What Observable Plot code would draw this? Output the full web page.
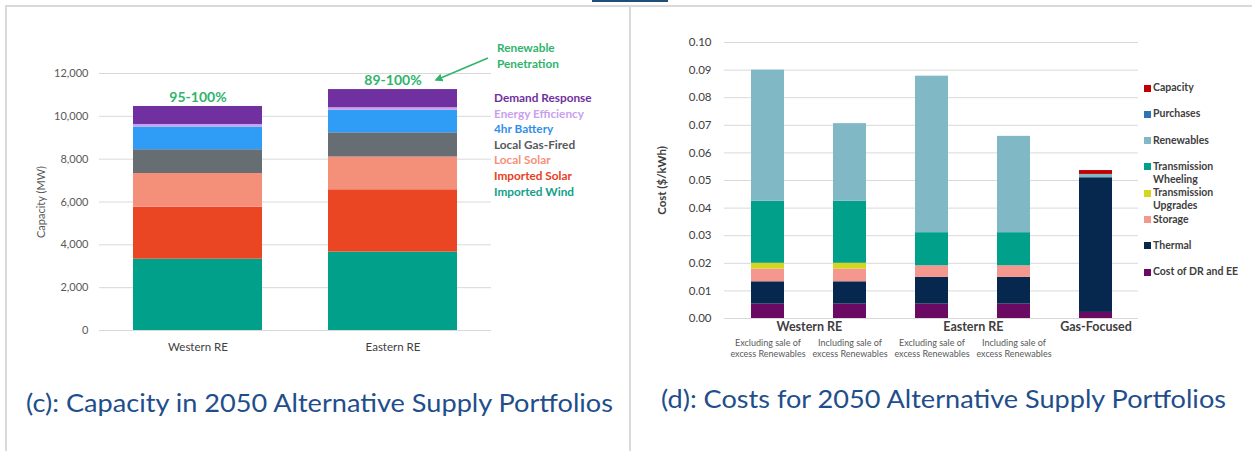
<!DOCTYPE html>
<html><head><meta charset="utf-8">
<script src="https://cdn.jsdelivr.net/npm/d3@7"></script>
<script src="https://cdn.jsdelivr.net/npm/@observablehq/plot@0.6"></script>
<style>
html,body{margin:0;padding:0;background:#fff;}
#root{position:relative;width:1252px;height:451px;overflow:hidden;font-family:Lato,"Open Sans",sans-serif;}
.caption{position:absolute;white-space:nowrap;color:#1f4e8c;font-size:25px;transform-origin:0 50%;line-height:1;}
.leg{position:absolute;white-space:nowrap;font-weight:700;line-height:1;}
</style></head><body><div id="root"></div>
<script>
// ---------- Panel (c): capacity ----------
const capPortfolios = ["Western RE", "Eastern RE"];
const capSources = ["Imported Wind", "Imported Solar", "Local Solar", "Local Gas-Fired", "4hr Battery", "Energy Efficiency", "Demand Response"];
const capColors = ["#00a08a", "#eb4624", "#f4907a", "#666d73", "#2f9cf5", "#c9a0f0", "#7030a0"];
const capLegendText = ["#12a08a", "#e8401c", "#f4907a", "#55595d", "#2f90ea", "#c9a0f0", "#7030a0"];
const capWestern = [3330, 2430, 1570, 1110, 1060, 120, 840];
const capEastern = [3660, 2910, 1530, 1130, 1050, 120, 850];
const capPenetration = ["95-100%", "89-100%"];
const capTicks = [0, 2000, 4000, 6000, 8000, 10000, 12000];

// ---------- Panel (d): costs ----------
const costBars = ["W-excl", "W-incl", "E-excl", "E-incl", "Gas"];
const costSubLabels = ["Excluding sale of\nexcess Renewables", "Including sale of\nexcess Renewables", "Excluding sale of\nexcess Renewables", "Including sale of\nexcess Renewables", ""];
const costGroups = ["Western RE", "Eastern RE", "Gas-Focused"];
const costGroupBars = [["W-excl", "W-incl"], ["E-excl", "E-incl"], ["Gas"]];
const costComponents = ["Cost of DR and EE", "Thermal", "Storage", "Transmission Upgrades", "Transmission Wheeling", "Renewables", "Purchases", "Capacity"];
const costColors = ["#6a0a62", "#06284f", "#f4978e", "#d6d61e", "#00a08a", "#80b9c5", "#2e75b6", "#c00000"];
const costLegendLabels = ["Cost of DR and EE", "Thermal", "Storage", "Transmission\nUpgrades", "Transmission\nWheeling", "Renewables", "Purchases", "Capacity"];
const costWesternExcl = [0.0052, 0.0081, 0.0046, 0.0021, 0.0225, 0.0475, 0, 0];
const costWesternIncl = [0.0052, 0.0081, 0.0046, 0.0021, 0.0225, 0.0281, 0, 0];
const costEasternExcl = [0.0052, 0.0097, 0.0042, 0, 0.0120, 0.0567, 0, 0];
const costEasternIncl = [0.0052, 0.0097, 0.0042, 0, 0.0120, 0.0349, 0, 0];
const costGasFocused  = [0.0022, 0.0488, 0, 0, 0, 0.0012, 0, 0.0014];
const costTicks = [0, 0.01, 0.02, 0.03, 0.04, 0.05, 0.06, 0.07, 0.08, 0.09, 0.10];

const root = document.getElementById("root");
function add(el, css) { Object.assign(el.style, css); root.appendChild(el); return el; }

// frame lines
add(document.createElement("div"), {position:"absolute", left:"5px", top:"5px", width:"1247px", height:"2px", background:"#d9d9d9"});
add(document.createElement("div"), {position:"absolute", left:"5px", top:"5px", width:"2px", height:"446px", background:"#d9d9d9"});
add(document.createElement("div"), {position:"absolute", left:"629px", top:"5px", width:"2px", height:"446px", background:"#d9d9d9"});
add(document.createElement("div"), {position:"absolute", left:"592px", top:"0px", width:"76px", height:"2px", background:"#1f4e79"});

// ---- left plot
const capSeries = [capWestern, capEastern];
const capData = capPortfolios.flatMap((p, pi) => capSources.map((s, si) => ({portfolio: p, source: s, value: capSeries[pi][si]})));
const capTotals = capPortfolios.map((p, pi) => ({portfolio: p, total: d3.sum(capSeries[pi]), label: capPenetration[pi]}));

const left = Plot.plot({
  width: 630, height: 360,
  marginTop: 73, marginBottom: 30, marginLeft: 99, marginRight: 139,
  style: {fontFamily: "Lato, sans-serif", fontSize: "11px", color: "#595959", background: "transparent", overflow: "visible"},
  x: {domain: capPortfolios, paddingInner: 0.337, paddingOuter: 0.17},
  y: {domain: [0, 12000]},
  color: {domain: capSources, range: capColors},
  marks: [
    Plot.gridY(capTicks, {stroke: "#d9d9d9", strokeOpacity: 1}),
    Plot.axisY({ticks: capTicks, tickSize: 0, tickPadding: 11, tickFormat: d3.format(","), label: "Capacity (MW)", labelAnchor: "center", labelArrow: "none", labelOffset: 62, fontSize: 11}),
    Plot.axisX({tickSize: 0, tickPadding: 12, label: null, fontSize: 11.5, fill: "#404040"}),
    Plot.barY(capData, {x: "portfolio", y: "value", fill: "source"}),
    Plot.text(capTotals, {x: "portfolio", y: "total", text: "label", dy: -9, fill: "#2fb46b", fontWeight: "bold", fontSize: 14})
  ]
});
add(left, {position: "absolute", left: "0px", top: "0px"});

// left legend
capSources.slice().reverse().forEach((s, i) => {
  const idx = capSources.indexOf(s);
  const d = document.createElement("div");
  d.className = "leg";
  d.textContent = s;
  add(d, {left: "494px", top: (98 + i * 15.6 - 6) + "px", fontSize: "11.8px", color: capLegendText[idx]});
});
["Renewable", "Penetration"].forEach((t, i) => {
  const d = document.createElement("div");
  d.className = "leg";
  d.textContent = t;
  add(d, {left: "497px", top: (48 + i * 15.5 - 6) + "px", fontSize: "11.8px", color: "#2fb46b"});
});
// annotation arrow
const ov = d3.create("svg").attr("width", 1252).attr("height", 451).style("position", "absolute").style("left", 0).style("top", 0).style("pointer-events", "none");
ov.append("defs").append("marker").attr("id", "ah").attr("viewBox", "0 0 10 10").attr("refX", 8).attr("refY", 5)
  .attr("markerWidth", 5).attr("markerHeight", 5).attr("orient", "auto")
  .append("path").attr("d", "M0,0 L10,5 L0,10 z").attr("fill", "#2fb46b");
ov.append("line").attr("x1", 488).attr("y1", 58).attr("x2", 436).attr("y2", 80).attr("stroke", "#2fb46b").attr("stroke-width", 1.6).attr("marker-end", "url(#ah)");
root.appendChild(ov.node());

// ---- right plot
const costSeries = [costWesternExcl, costWesternIncl, costEasternExcl, costEasternIncl, costGasFocused];
const costData = costBars.flatMap((b, bi) => costComponents.map((c, ci) => ({bar: b, comp: c, value: costSeries[bi][ci]})));
const rW = 622, rML = 94, rMR = 114, pin = 0.6, pout = 0.3;
const step = (rW - rML - rMR) / (costBars.length - pin + 2 * pout);
const groupMarks = costGroups.map((g, gi) => Plot.text([g], {
  x: () => costGroupBars[gi][0], text: d => d, frameAnchor: "bottom",
  dx: (costGroupBars[gi].length - 1) * step / 2, dy: 12,
  fill: "#404040", fontWeight: "bold", fontSize: 12.5
}));
const right = Plot.plot({
  width: rW, height: 360,
  marginTop: 42, marginBottom: 42, marginLeft: rML, marginRight: rMR,
  style: {fontFamily: "Lato, sans-serif", fontSize: "11px", color: "#404040", background: "transparent", overflow: "visible"},
  x: {domain: costBars, paddingInner: pin, paddingOuter: pout},
  y: {domain: [0, 0.10]},
  color: {domain: costComponents, range: costColors},
  marks: [
    Plot.gridY(costTicks, {stroke: "#d9d9d9", strokeOpacity: 1}),
    Plot.axisY({ticks: costTicks, tickSize: 0, tickPadding: 13, tickFormat: d3.format(".2f"), label: "Cost ($/kWh)", labelAnchor: "center", labelArrow: "none", labelOffset: 67, fontSize: 11.5}),
    Plot.axisX({tickSize: 0, tickPadding: 20, label: null, tickFormat: (d) => costSubLabels[costBars.indexOf(d)], fontSize: 9, fill: "#595959", lineHeight: 1.2}),
    Plot.barY(costData, {x: "bar", y: "value", fill: "comp"}),
    ...groupMarks
  ]
});
add(right, {position: "absolute", left: "630px", top: "0px"});
right.querySelectorAll("g[aria-label='y-axis label'] text").forEach(t => t.setAttribute("font-weight", "bold"));

// right legend
costComponents.slice().reverse().forEach((c, i) => {
  const idx = costComponents.indexOf(c);
  const y = 88 + i * 26.3;
  add(document.createElement("div"), {position: "absolute", left: "1144px", top: (y - 3.5) + "px", width: "7px", height: "7px", background: costColors[idx]});
  const d = document.createElement("div");
  d.className = "leg";
  d.innerHTML = costLegendLabels[idx].split("\n").map(s => `<div style="height:13px">${s}</div>`).join("");
  add(d, {left: "1153px", top: (y - 6) + "px", fontSize: "10.5px", color: "#404040"});
});

// captions
function caption(text, x, yc, targetW) {
  const d = document.createElement("div");
  d.className = "caption";
  d.textContent = text;
  add(d, {left: x + "px", top: (yc - 12.5) + "px"});
  const w = d.getBoundingClientRect().width;
  d.style.transform = `scaleX(${targetW / w})`;
}
caption("(c): Capacity in 2050 Alternative Supply Portfolios", 26, 402, 587);
caption("(d): Costs for 2050 Alternative Supply Portfolios", 661, 398, 565);
</script>
</body></html>
